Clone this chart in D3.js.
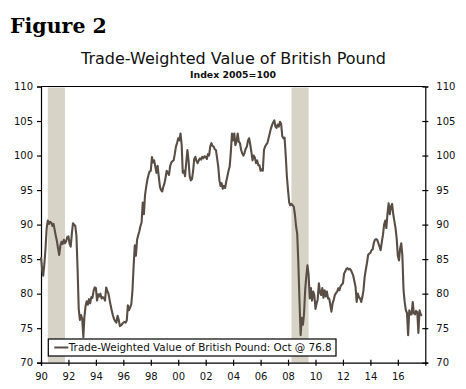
<!DOCTYPE html>
<html lang="en">
<head>
<meta charset="UTF-8">
<title>Trade-Weighted Value of British Pound</title>
<script src="https://d3js.org/d3.v7.min.js"></script>
<style>
  body { margin: 0; background: #fff; }
  svg { display: block; font-family: "DejaVu Sans", Verdana, sans-serif; }
  .fig-label { font-family: "DejaVu Serif", Georgia, serif; font-weight: bold; font-size: 20.5px; fill: #000; }
  .title { font-size: 16px; fill: #111; text-anchor: middle; }
  .subtitle { font-size: 9.4px; font-weight: bold; fill: #111; text-anchor: middle; }
  .axis text { font-size: 10px; fill: #111; font-family: "DejaVu Sans", Verdana, sans-serif; }
  .axis path, .axis line { stroke: #000; stroke-width: 1.2; }
  .recession { fill: #d7d3c7; }
  .series { fill: none; stroke: #594e45; stroke-width: 2.1; stroke-linejoin: round; }
  .legend-box { fill: #fff; stroke: #000; stroke-width: 1.2; }
  .legend-text { font-size: 10.4px; fill: #111; }
</style>
</head>
<body>
<div id="chart"></div>
<script>
// monthly index values (2005=100), Jan 1990 .. Oct 2017
const firstMonth = "1990-01";
const poundIndex = [
  // 1990
  85.3, 83.5, 82.6, 84.3, 86.5, 89.5, 90.6, 90.1, 90.4, 90.3, 89.8, 90.1,
  // 1991
  89.2, 88.3, 87.6, 86.5, 85.6, 87.0, 87.5, 87.2, 87.8, 87.3, 87.6, 88.2,
  // 1992
  88.3, 87.2, 86.8, 88.7, 90.2, 90.0, 89.8, 88.4, 83.5, 77.8, 76.2, 76.9,
  // 1993
  76.4, 73.7, 76.6, 78.2, 78.9, 78.4, 79.2, 78.6, 79.5, 79.4, 80.4, 80.9,
  // 1994
  80.8, 79.0, 79.9, 79.6, 80.0, 79.3, 79.5, 79.4, 79.0, 80.9, 80.4, 80.0,
  // 1995
  79.1, 78.2, 77.5, 76.8, 76.3, 76.0, 75.8, 76.8, 76.2, 75.3, 75.4, 75.6,
  // 1996
  75.8, 75.9, 75.8, 76.1, 78.3, 77.6, 78.0, 78.5, 80.5, 84.0, 87.0, 85.5,
  // 1997
  87.8, 88.5, 89.0, 89.8, 90.3, 93.2, 91.5, 94.3, 95.5, 96.5, 97.2, 97.7,
  // 1998
  97.8, 99.8, 99.0, 99.3, 98.4, 97.5, 98.5, 97.0, 95.5, 95.0, 94.8, 95.5,
  // 1999
  96.0, 96.9, 97.8, 97.5, 97.2, 98.5, 99.0, 99.2, 99.3, 100.2, 101.3, 101.8,
  // 2000
  102.5, 102.2, 103.2, 101.6, 97.5, 97.8, 97.0, 99.0, 100.8, 99.3, 97.0, 96.4,
  // 2001
  96.6, 97.8, 99.5, 99.8, 99.2, 98.9, 99.3, 99.6, 99.4, 99.8, 99.6, 99.9,
  // 2002
  99.8, 99.5, 100.2, 100.0, 101.3, 101.8, 101.4, 101.3, 100.9, 100.8, 99.6, 98.4,
  // 2003
  96.4, 95.6, 96.0, 95.2, 95.6, 95.3, 96.2, 97.0, 97.8, 98.4, 100.5, 103.2,
  // 2004
  102.2, 103.2, 101.5, 102.0, 103.2, 102.0, 101.8, 100.8, 100.3, 100.0, 100.4, 101.0,
  // 2005
  101.3, 102.2, 102.5, 101.6, 100.5, 99.3, 100.0, 99.7, 98.9, 99.3, 98.6, 98.6,
  // 2006
  97.8, 98.0, 97.8, 100.8, 101.3, 101.6, 101.8, 102.5, 103.2, 103.9, 104.4, 104.8,
  // 2007
  105.1, 104.2, 104.0, 104.5, 104.2, 104.9, 104.6, 102.8, 102.5, 102.6, 100.0, 97.0,
  // 2008
  95.0, 93.2, 92.8, 93.0, 92.8, 92.6, 91.5, 89.8, 88.7, 84.5, 79.0, 74.0,
  // 2009
  76.5, 75.5, 77.0, 80.5, 82.5, 84.1, 82.8, 79.3, 80.8, 79.0, 80.3, 79.8,
  // 2010
  77.8, 78.6, 79.2, 81.5, 80.2, 79.8, 80.8, 79.4, 80.5, 79.6, 80.3, 79.3,
  // 2011
  79.3, 78.3, 77.4, 78.6, 79.1, 79.8, 80.1, 80.3, 80.8, 80.5, 81.1, 81.3,
  // 2012
  81.5, 82.9, 83.2, 83.6, 83.7, 83.5, 83.6, 83.4, 83.0, 82.6, 81.8, 81.0,
  // 2013
  78.8, 80.0, 79.5, 79.3, 78.8, 79.5, 80.5, 82.4, 83.5, 84.4, 85.6, 85.8,
  // 2014
  85.9, 86.3, 86.4, 87.3, 87.8, 87.9, 87.8, 87.3, 86.8, 86.3, 87.5, 88.5,
  // 2015
  90.0, 90.6, 89.5, 91.6, 93.1, 91.5, 92.6, 93.0, 91.5, 90.5, 89.5, 88.0,
  // 2016
  85.5, 84.8, 86.5, 87.3, 85.5, 80.5, 78.8, 77.6, 77.2, 74.0, 77.6, 77.0,
  // 2017
  77.0, 78.8, 77.2, 77.0, 77.5, 77.3, 74.3, 77.6, 77.0, 76.8
];

const recessions = [["1990-07", "1991-10"], ["2008-04", "2009-07"]];
const yTicks = [70, 75, 80, 85, 90, 95, 100, 105, 110];
const xTickYears = [1990, 1992, 1994, 1996, 1998, 2000, 2002, 2004, 2006, 2008, 2010, 2012, 2014, 2016];
const xTickLabels = ["90", "92", "94", "96", "98", "00", "02", "04", "06", "08", "10", "12", "14", "16"];
const legendLabel = "Trade-Weighted Value of British Pound: Oct @ 76.8";

const W = 466, H = 389;
const margin = { top: 86.5, right: 40.7, bottom: 26.3, left: 41 };
const width = W - margin.left - margin.right,
      height = H - margin.top - margin.bottom;

const parseMonth = d3.timeParse("%Y-%m");
const start = parseMonth(firstMonth);
const data = poundIndex.map((v, i) => ({ date: d3.timeMonth.offset(start, i), value: v }));

const svg = d3.select("#chart").append("svg")
  .attr("width", W)
  .attr("height", H);

svg.append("text").attr("class", "fig-label")
  .attr("x", 10).attr("y", 32.5).text("Figure 2");
svg.append("text").attr("class", "title")
  .attr("x", 233.5).attr("y", 64.3).text("Trade-Weighted Value of British Pound");
svg.append("text").attr("class", "subtitle")
  .attr("x", 233).attr("y", 78).text("Index 2005=100");

const g = svg.append("g")
  .attr("transform", `translate(${margin.left},${margin.top})`);

const x = d3.scaleTime()
  .domain([new Date(1990, 0, 1), new Date(2018, 0, 1)])
  .range([0, width]);

const y = d3.scaleLinear()
  .domain([70, 110])
  .range([height, 0]);

// recession shading
g.selectAll(".recession")
  .data(recessions)
  .enter()
  .append("rect")
  .attr("class", "recession")
  .attr("x", d => x(parseMonth(d[0])))
  .attr("width", d => x(parseMonth(d[1])) - x(parseMonth(d[0])))
  .attr("y", 1)
  .attr("height", height - 1);

// frame top
g.append("line")
  .attr("x1", 0).attr("x2", width)
  .attr("y1", 0).attr("y2", 0)
  .attr("stroke", "#000").attr("stroke-width", 1.2);

// axes
g.append("g")
  .attr("class", "axis")
  .call(d3.axisLeft(y).tickValues(yTicks).tickSize(4).tickPadding(4));

g.append("g")
  .attr("class", "axis")
  .attr("transform", `translate(${width},0)`)
  .call(d3.axisRight(y).tickValues(yTicks).tickSize(3).tickPadding(8))
  .call(a => a.selectAll(".tick line").attr("x1", -3));

const xTicks = xTickYears.map(yr => new Date(yr, 0, 1));
g.append("g")
  .attr("class", "axis")
  .attr("transform", `translate(0,${height})`)
  .call(d3.axisBottom(x).tickValues(xTicks).tickSize(3).tickPadding(7)
    .tickFormat((d, i) => xTickLabels[i]))
  .call(a => a.selectAll(".tick line").attr("y1", -3));

g.selectAll(".axis path").attr("stroke-width", 1.4);

// series
const line = d3.line()
  .x(d => x(d.date))
  .y(d => y(d.value));

g.append("path")
  .datum(data)
  .attr("class", "series")
  .attr("d", line);

// legend
const legend = g.append("g")
  .attr("transform", `translate(${48.3 - margin.left},${339 - margin.top})`);
legend.append("rect")
  .attr("class", "legend-box")
  .attr("width", 287.7)
  .attr("height", 17);
legend.append("line")
  .attr("x1", 6).attr("x2", 20)
  .attr("y1", 8.5).attr("y2", 8.5)
  .attr("stroke", "#594e45").attr("stroke-width", 2);
legend.append("text")
  .attr("class", "legend-text")
  .attr("x", 20.5).attr("y", 12.3)
  .text(legendLabel);
</script>
</body>
</html>
